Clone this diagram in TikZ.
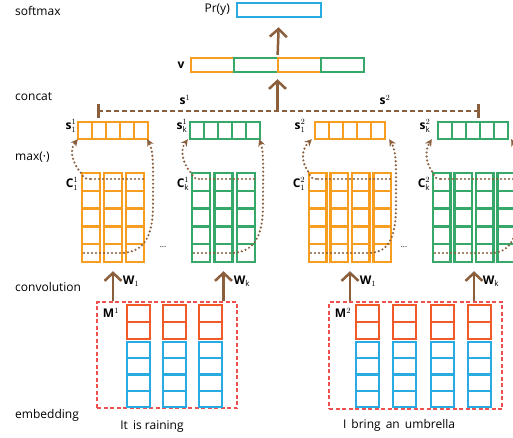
\documentclass[tikz,border=0pt]{standalone}
\usepackage{fontspec}
\setmainfont{Open Sans}
\usetikzlibrary{arrows.meta}
\definecolor{orng}{RGB}{247,158,33}
\definecolor{grn}{RGB}{56,168,106}
\definecolor{blu}{RGB}{41,171,226}
\definecolor{redo}{RGB}{240,90,40}
\definecolor{dred}{RGB}{238,80,80}
\definecolor{brn}{RGB}{139,94,60}
\tikzset{
  lbl/.style={font=\fontsize{12}{14}\selectfont, inner sep=0pt},
  mlbl/.style={font=\fontsize{12}{14}\selectfont, inner sep=0pt},
  hold/.style={draw=none, inner sep=0pt, minimum width=#1},
  ocell/.style={draw=orng, line width=2.4pt},
  gcell/.style={draw=grn, line width=2.4pt},
  rcell/.style={draw=redo, line width=2.4pt},
  bcell/.style={draw=blu, line width=2.4pt},
  bigarrow/.style={draw=brn, line width=2.5pt, -{Straight Barb[length=8pt,width=17pt]}},
  maxarrow/.style={draw=brn, line width=2.4pt, dash pattern=on 0pt off 4pt, line cap=round, -{Stealth[length=7pt,width=7pt]}},
  dotline/.style={draw=brn, line width=2.4pt, dash pattern=on 0pt off 4pt, line cap=round},
  catline/.style={draw=brn, line width=2pt, dash pattern=on 5pt off 3pt},
  tick/.style={draw=brn, line width=3pt},
  embbox/.style={draw=dred, line width=1.2pt, dash pattern=on 4pt off 2.5pt, inner sep=0pt},
}
\begin{document}
\begin{tikzpicture}[x=1pt,y=-1pt]
\useasboundingbox (0,0) rectangle (513,437);
\clip (0,0) rectangle (513,437);

% left labels
\node[lbl, anchor=west] (Lsoft) at (15,11) {softmax};
\node[lbl, anchor=west] (Lcat) at (15,97) {concat};
\node[lbl, anchor=west] (Lmax) at (15,157) {max(·)};
\node[lbl, anchor=west] (Lconv) at (15,287) {convolution};
\node[lbl, anchor=west] (Lemb) at (15,415) {embedding};

% softmax
\node[draw=blu, line width=2.4pt, minimum width=84pt, minimum height=14pt, inner sep=0pt] (pr) at (279,10) {};
\node[lbl, anchor=east] (prl) at (230,10) {Pr(y)};

% v
\node[draw=none, minimum width=173pt, minimum height=14pt, inner sep=0pt] (v) at (277.5,65) {};
\draw[ocell] (191,58) rectangle (234,72);
\draw[gcell] (234,58) rectangle (278,72);
\draw[ocell] (278,58) rectangle (321,72);
\draw[gcell] (321,58) rectangle (364,72);
\node[mlbl] (vl) at (181,65) {$\mathbf{v}$};

% concat line
\coordinate (catL) at (98,111);
\coordinate (catR) at (478,111);
\draw[catline] (catL) -- (catR);
\draw[tick] ([yshift=-7pt]catL) -- ([yshift=7pt]catL);
\draw[tick] ([yshift=-7pt]catR) -- ([yshift=7pt]catR);
\node[mlbl] (s1) at (185,100) {$\mathbf{s}^{1}$};
\node[mlbl] (s2) at (385,100) {$\mathbf{s}^{2}$};

% arrows up
\draw[bigarrow, shorten >=7pt] (catL -| v.south) -- (v.south);
\draw[bigarrow, shorten <=3pt, shorten >=9pt] (v.north) -- (pr.south);

% pooled vectors
\node[hold=70pt, minimum height=17pt] (s11) at (113,130.5) {};
\node[hold=70pt, minimum height=17pt] (s1k) at (225,130.5) {};
\node[hold=70pt, minimum height=17pt] (s21) at (350,130.5) {};
\node[hold=70pt, minimum height=17pt] (s2k) at (473,130.5) {};
\foreach \sx/\st in {78/ocell,190/gcell,315/ocell,438/gcell}{
  \foreach \i in {0,...,4}{
    \draw[\st] ({\sx+\i*14},122) rectangle ++(14,17);
  }
}
\node[mlbl] (ls11) at (71,126) {$\mathbf{s}^{1}_{1}$};
\node[mlbl] (ls1k) at (182,126) {$\mathbf{s}^{1}_{\mathrm{k}}$};
\node[mlbl] (ls21) at (300,126) {$\mathbf{s}^{2}_{1}$};
\node[mlbl] (ls2k) at (425,126) {$\mathbf{s}^{2}_{\mathrm{k}}$};

% conv matrices
\node[hold=62pt, minimum height=89pt] (M11) at (113,217.5) {};
\node[hold=63pt, minimum height=89pt] (M1k) at (223.5,217.5) {};
\node[hold=82pt, minimum height=89pt] (M21) at (350,217.5) {};
\node[hold=82pt, minimum height=89pt] (M2k) at (474,217.5) {};
\foreach \x in {82,104,126}{
  \draw[ocell] (\x,173) rectangle ++(18,89);
  \foreach \r in {1,...,4} \draw[ocell] (\x,{173+\r*17.8}) -- ++(18,0);
}
\foreach \x in {192,214.5,237}{
  \draw[gcell] (\x,173) rectangle ++(18,89);
  \foreach \r in {1,...,4} \draw[gcell] (\x,{173+\r*17.8}) -- ++(18,0);
}
\foreach \x in {309,330.5,352,373.5}{
  \draw[ocell] (\x,173) rectangle ++(17.5,89);
  \foreach \r in {1,...,4} \draw[ocell] (\x,{173+\r*17.8}) -- ++(17.5,0);
}
\foreach \x in {433,454.5,476,497.5}{
  \draw[gcell] (\x,173) rectangle ++(17.5,89);
  \foreach \r in {1,...,4} \draw[gcell] (\x,{173+\r*17.8}) -- ++(17.5,0);
}
\node[mlbl] (lC11) at (72,184) {$\mathbf{C}^{1}_{1}$};
\node[mlbl] (lC1k) at (183,184) {$\mathbf{C}^{1}_{\mathrm{k}}$};
\node[mlbl] (lC21) at (299,184) {$\mathbf{C}^{2}_{1}$};
\node[mlbl] (lC2k) at (424,184) {$\mathbf{C}^{2}_{\mathrm{k}}$};
\node[lbl, font=\fontsize{8}{8}\selectfont] (dots1) at (163,247) {...};
\node[lbl, font=\fontsize{8}{8}\selectfont] (dots2) at (404,247) {...};

% max pooling dotted curves
\draw[dotline] (143,179) -- (90,179);
\draw[maxarrow] (90,179) .. controls (84,179) and (82,176) .. (81,173) .. controls (72,162) and (69,150) .. (s11.south west);
\draw[maxarrow] (84,253) -- (122,253) .. controls (145,252) and (153,235) .. (153,205) .. controls (153,170) and (154,152) .. ([xshift=-1pt]s11.south east);

\draw[dotline] (254,179) -- (199,179);
\draw[maxarrow] (199,179) .. controls (194,179) and (192,176) .. (191,173) .. controls (182,162) and (180,150) .. ([xshift=-2pt]s1k.south west);
\draw[maxarrow] (194,253) -- (232,253) .. controls (255,252) and (263,235) .. (263,205) .. controls (263,170) and (264,152) .. ([xshift=-1pt]s1k.south east);

\draw[dotline] (390,179) -- (316,179);
\draw[maxarrow] (316,179) .. controls (311,179) and (310,176) .. (309,173) .. controls (301,162) and (301,150) .. ([xshift=-3pt]s21.south west);
\draw[maxarrow] (311,253) -- (370,253) .. controls (390,252) and (396,235) .. (396,205) .. controls (396,170) and (397,152) .. ([xshift=4pt]s21.south east);

\draw[dotline] (513,179) -- (440,179);
\draw[maxarrow] (440,179) .. controls (435,179) and (434,176) .. (433,173) .. controls (425,162) and (425,150) .. ([xshift=-6pt]s2k.south west);
\draw[maxarrow] (435,253) -- (492,253) .. controls (512,252) and (518,235) .. (518,205) .. controls (518,170) and (518,152) .. ([xshift=3pt]s2k.south east);

% embeddings
\node[embbox, minimum width=140pt, minimum height=106pt] (E1) at (167,355) {};
\node[embbox, minimum width=173pt, minimum height=107pt] (E2) at (415.5,355.5) {};
\foreach \x in {127,163,199}{
  \draw[rcell] (\x,305) rectangle ++(23,17) (\x,322) rectangle ++(23,17);
  \foreach \r in {0,...,3} \draw[bcell] (\x,{342+\r*16.25}) rectangle ++(23,16.25);
}
\foreach \x in {356,393,431,468}{
  \draw[rcell] (\x,305) rectangle ++(23,17) (\x,322) rectangle ++(23,17);
  \foreach \r in {0,...,3} \draw[bcell] (\x,{342+\r*16.25}) rectangle ++(23,16.25);
}
\node[mlbl] (lM1) at (111,313) {$\mathbf{M}^{1}$};
\node[mlbl] (lM2) at (343,313) {$\mathbf{M}^{2}$};

% convolution arrows
\draw[bigarrow, shorten >=9pt] (E1.north -| M11.south) -- (M11.south);
\draw[bigarrow, shorten >=9pt] (E1.north -| M1k.south) -- (M1k.south);
\draw[bigarrow, shorten >=9pt] (E2.north -| M21.south) -- (M21.south);
\draw[bigarrow, shorten >=9pt] (E2.north -| M2k.south) -- (M2k.south);
\node[mlbl] (lW11) at (131,281) {$\mathbf{W}_{1}$};
\node[mlbl] (lW1k) at (242,281) {$\mathbf{W}_{\mathrm{k}}$};
\node[mlbl] (lW21) at (368,281) {$\mathbf{W}_{1}$};
\node[mlbl] (lW2k) at (491,281) {$\mathbf{W}_{\mathrm{k}}$};

% sentences
\node[lbl] (sent1) at (152,427) {It\,\ is raining};
\node[lbl] (sent2) at (399,425) {I\,\ bring\,\ an\,\ umbrella};
\end{tikzpicture}
\end{document}
